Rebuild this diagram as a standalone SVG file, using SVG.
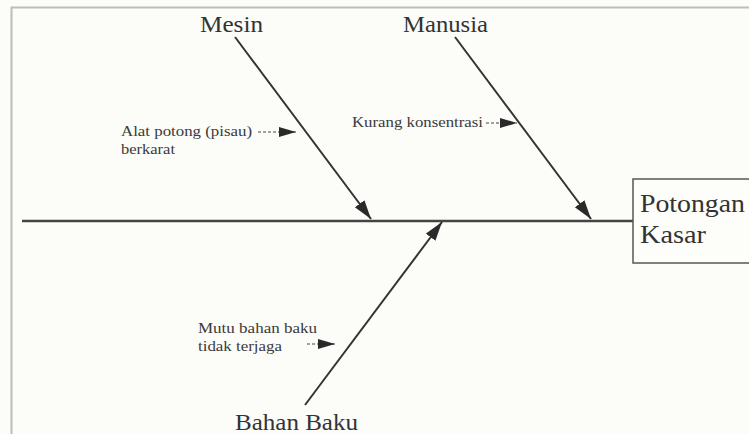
<svg xmlns="http://www.w3.org/2000/svg" width="749" height="434" viewBox="0 0 749 434">
  <defs>
    <marker id="big" markerUnits="userSpaceOnUse" markerWidth="20" markerHeight="14" refX="19" refY="6" orient="auto">
      <path d="M0,0 L19,6 L0,12 Z" fill="#2a2a2a"/>
    </marker>
    <marker id="small" markerUnits="userSpaceOnUse" markerWidth="18" markerHeight="12" refX="17" refY="5" orient="auto">
      <path d="M0,0 L17,5 L0,10 Z" fill="#2a2a2a"/>
    </marker>
    <style>
      .bone { stroke: #333; stroke-width: 2; fill: none; marker-end: url(#big); }
      .cause { stroke: #444; stroke-width: 1; stroke-dasharray: 3 2; fill: none; marker-end: url(#small); }
      .big { font-family: "Liberation Serif", serif; font-size: 24px; fill: #333; }
      .small { font-family: "Liberation Serif", serif; font-size: 14px; fill: #3a3a3a; }
    </style>
  </defs>
  <rect x="0" y="0" width="749" height="434" fill="#fcfcf8"/>
  <path d="M11.5,434 V7.5 H749" stroke="#bdbdb8" stroke-width="2" fill="none"/>

  <g id="connectors">
    <line x1="22" y1="221" x2="633" y2="221" stroke="#444" stroke-width="2.5"/>
    <line class="bone" x1="235" y1="37" x2="371" y2="219"/>
    <line class="bone" x1="455" y1="37" x2="591" y2="219"/>
    <line class="bone" x1="305" y1="405" x2="442" y2="222"/>
    <line class="cause" x1="258" y1="132" x2="296" y2="132"/>
    <line class="cause" x1="486" y1="123" x2="517" y2="123"/>
    <line class="cause" x1="307" y1="344" x2="335" y2="344"/>
  </g>

  <g id="effect">
    <rect x="633" y="179" width="120" height="84" fill="#fdfdfa" stroke="#555" stroke-width="1.5"/>
    <text class="big" x="640" y="212" textLength="105" lengthAdjust="spacingAndGlyphs" style="font-size:26px">Potongan</text>
    <text class="big" x="640" y="243" textLength="66" lengthAdjust="spacingAndGlyphs" style="font-size:26px">Kasar</text>
  </g>

  <g id="mesin">
    <text class="big" x="200" y="32" textLength="63" lengthAdjust="spacingAndGlyphs">Mesin</text>
  </g>
  <g id="manusia">
    <text class="big" x="403" y="32" textLength="85" lengthAdjust="spacingAndGlyphs">Manusia</text>
  </g>
  <g id="bahan-baku">
    <text class="big" x="235" y="430" textLength="123" lengthAdjust="spacingAndGlyphs">Bahan Baku</text>
  </g>

  <g id="cause-alat">
    <text class="small" x="121" y="136" textLength="131" lengthAdjust="spacingAndGlyphs">Alat potong (pisau)</text>
    <text class="small" x="121" y="154" textLength="54" lengthAdjust="spacingAndGlyphs">berkarat</text>
  </g>
  <g id="cause-kurang">
    <text class="small" x="352" y="127" textLength="131" lengthAdjust="spacingAndGlyphs">Kurang konsentrasi</text>
  </g>
  <g id="cause-mutu">
    <text class="small" x="198" y="333" textLength="119" lengthAdjust="spacingAndGlyphs">Mutu bahan baku</text>
    <text class="small" x="198" y="351" textLength="84" lengthAdjust="spacingAndGlyphs">tidak terjaga</text>
  </g>
</svg>
